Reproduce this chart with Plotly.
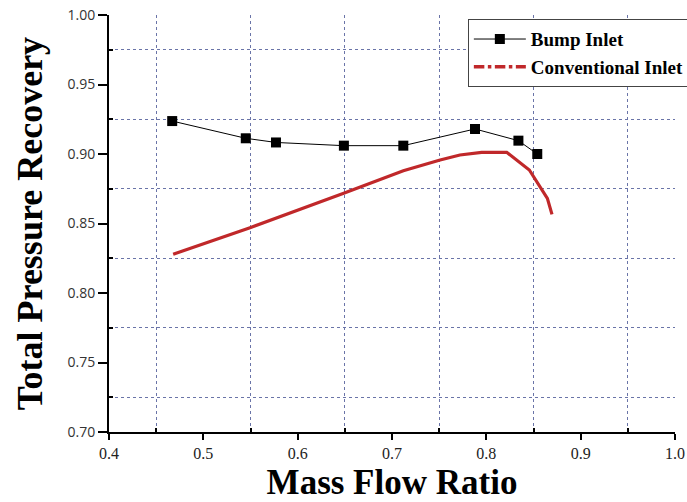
import plotly.graph_objects as go

bump_x = [0.467, 0.545, 0.577, 0.649, 0.712, 0.788, 0.834, 0.854]
bump_y = [0.9237, 0.9113, 0.9083, 0.9060, 0.9060, 0.9180, 0.9096, 0.9000]

conv_x = [0.468, 0.5495, 0.6488, 0.712, 0.751, 0.772, 0.795, 0.8216, 0.8456, 0.8569, 0.8647, 0.8696]
conv_y = [0.8278, 0.8470, 0.8717, 0.8880, 0.8957, 0.8993, 0.9012, 0.9012, 0.8885, 0.8770, 0.8681, 0.8566]

x_title = "Mass Flow Ratio"
y_title = "Total Pressure Recovery"

RED = "#c0282a"
GRID = "#6a74a8"
SERIF = "Liberation Serif, Times New Roman, serif"
SANS = "Open Sans, Liberation Sans, sans-serif"

fig = go.Figure()
fig.add_trace(go.Scatter(
    x=bump_x, y=bump_y, mode="lines+markers", name="Bump Inlet",
    line=dict(color="black", width=1),
    marker=dict(symbol="square", size=10, color="black"),
))
fig.add_trace(go.Scatter(
    x=conv_x, y=conv_y, mode="lines", name="Conventional Inlet",
    line=dict(color=RED, width=3.2), showlegend=False,
))
fig.add_trace(go.Scatter(
    x=[None], y=[None], mode="lines", name="Conventional Inlet",
    line=dict(color=RED, width=3.5, dash="dashdot"),
))

axis_common = dict(
    showline=True, linecolor="black", linewidth=2, mirror=False,
    showgrid=False, zeroline=False,
    ticks="outside", tickwidth=1.5, tickcolor="black",
)

fig.update_xaxes(
    range=[0.4, 1.0], dtick=0.1, tick0=0.4, tickformat=".1f", ticklen=6,
    tickfont=dict(family=SERIF, size=16, color="#222"),
    title=dict(text=x_title, font=dict(family=SERIF, size=35, color="black", weight="bold"), standoff=14),
    minor=dict(dtick=0.1, tick0=0.45, showgrid=True, griddash="dot", gridcolor=GRID, gridwidth=1,
               ticks="inside", ticklen=4, tickcolor="black"),
    **axis_common,
)
fig.update_yaxes(
    range=[0.7, 1.0], dtick=0.05, tick0=0.7, tickformat=".2f", ticklen=9,
    tickfont=dict(family=SANS, size=14, color="#333"),
    title=dict(text=y_title, font=dict(family=SERIF, size=36, color="black", weight="bold"), standoff=14),
    minor=dict(dtick=0.05, tick0=0.725, showgrid=True, griddash="dot", gridcolor=GRID, gridwidth=1,
               ticks="inside", ticklen=4, tickcolor="black"),
    **axis_common,
)

fig.update_layout(
    width=687, height=502,
    margin=dict(l=109, r=12, t=15, b=70, autoexpand=False),
    paper_bgcolor="white", plot_bgcolor="white",
    legend=dict(
        x=0.634, y=0.99, xanchor="left", yanchor="top",
        bgcolor="white", bordercolor="#444", borderwidth=1,
        font=dict(family=SERIF, size=19, color="black", weight="bold"),
        itemwidth=52, tracegroupgap=0,
    ),
    showlegend=True,
)

fig.write_html("out.html", config={"displayModeBar": False},
               post_script="document.body.style.margin='0';")
